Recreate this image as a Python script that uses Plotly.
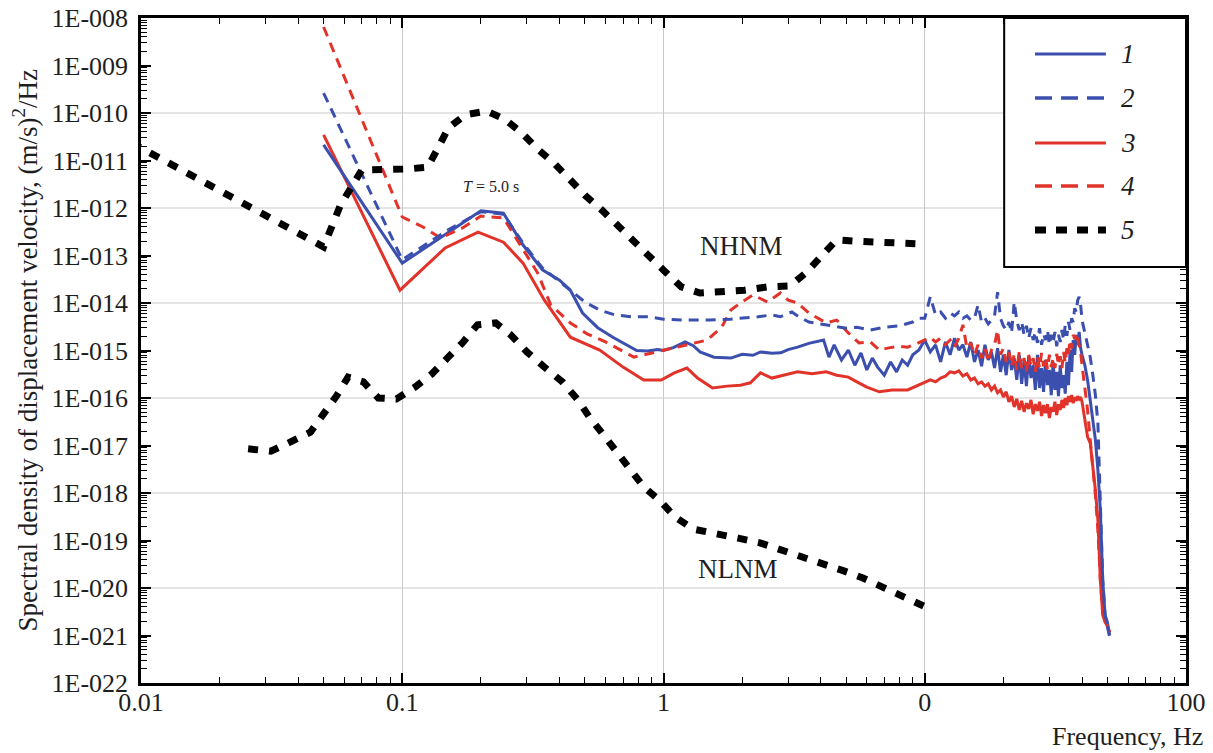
import numpy as np
import plotly.graph_objects as go

# ---------------- data (frequency in Hz, spectral density as log10 value) ----------------
f_hf = [10.0, 10.5, 11.0, 11.5, 12.0, 12.5, 13.0, 13.5, 14.0, 14.5, 15.0, 15.5, 16.0, 16.5,
        17.0, 17.5, 18.0, 18.5, 19.0, 19.5, 20.0, 20.5, 21.0, 21.5, 22.0, 22.5, 23.0, 23.5,
        24.0, 24.5, 25.0, 25.5, 26.0, 26.5, 27.0, 27.5, 28.0, 28.5, 29.0, 29.5, 30.0, 30.5,
        31.0, 31.5, 32.0, 32.5, 33.0, 33.5, 34.0, 34.5, 35.0, 35.5, 36.0, 36.5, 37.0, 37.5,
        38.0, 38.5, 39.0, 39.5, 40.0]
f_tail = [41, 42, 43, 44, 45, 46, 47, 48, 49, 50, 51]

# series 1 (blue solid)
s1_f_lf = [0.05, 0.1, 0.2, 0.244, 0.29, 0.344, 0.40, 0.44, 0.49, 0.56, 0.64, 0.79, 0.87, 0.95,
           1.0, 1.09, 1.21, 1.3, 1.38, 1.56, 1.81, 2.0, 2.2, 2.35, 2.6, 2.81, 3.0, 3.26, 3.6,
           3.9, 4.1, 4.3, 4.5, 4.8, 5.1, 5.4, 5.7, 6.0, 6.3, 6.6, 7.0, 7.4, 7.8, 8.2, 8.6, 9.0, 9.5]
s1_lf = [-10.67, -13.16, -12.06, -12.11, -12.78, -13.30, -13.52, -13.73, -14.21, -14.52, -14.72,
         -15.00, -15.01, -14.98, -15.00, -14.94, -14.82, -14.90, -15.03, -15.14, -15.16, -15.08,
         -15.10, -15.03, -15.06, -15.05, -14.98, -14.93, -14.85, -14.80, -14.78, -15.14, -14.88,
         -15.20, -14.99, -15.31, -15.05, -15.41, -15.16, -15.35, -15.52, -15.24, -15.45, -15.20,
         -15.31, -15.09, -14.99]
s1_hf = [-14.78, -15.03, -14.88, -15.24, -14.82, -15.09, -14.74, -14.99, -14.88, -15.14,
         -14.82, -15.24, -14.99, -15.33, -14.88, -15.20, -15.03, -15.37, -14.95, -15.45,
         -15.09, -15.52, -14.99, -15.41, -15.16, -15.62, -15.09, -15.70, -15.20, -15.75,
         -15.12, -15.58, -15.31, -15.83, -15.09, -15.79, -15.37, -15.87, -15.20, -15.73,
         -15.41, -15.94, -15.24, -15.83, -15.45, -15.96, -15.31, -15.79, -15.52, -15.91,
         -15.24, -15.73, -14.99, -15.45, -14.78, -15.09, -14.67, -14.88, -14.61, -14.95, -15.09]
s1_tail = [-15.31, -15.62, -16.04, -16.46, -16.88, -17.52, -18.36, -19.83, -20.57, -20.72, -20.99]

# series 2 (blue dashed)
s2_f_lf = [0.05, 0.1, 0.15, 0.2, 0.244, 0.29, 0.344, 0.40, 0.44, 0.5, 0.57, 0.65, 0.75, 0.88,
           1.0, 1.2, 1.5, 1.8, 2.0, 2.3, 2.6, 2.8, 3.1, 3.3, 3.6, 4.2, 5.0, 5.5, 6.2, 7.0, 8.0,
           9.0, 9.5]
s2_lf = [-9.58, -13.09, -12.46, -12.08, -12.13, -12.74, -13.26, -13.56, -13.73, -13.98, -14.15,
         -14.25, -14.29, -14.29, -14.34, -14.36, -14.36, -14.34, -14.32, -14.29, -14.25, -14.29,
         -14.19, -14.29, -14.40, -14.46, -14.53, -14.51, -14.57, -14.51, -14.48, -14.40, -14.32]
s2_hf = [-14.32, -13.87, -14.25, -14.19, -14.32, -14.21, -14.27, -14.19, -14.32, -14.27,
         -14.36, -14.32, -14.04, -14.40, -14.32, -14.44, -14.36, -14.27, -13.77, -14.32,
         -14.48, -14.57, -14.40, -14.63, -13.98, -14.36, -14.57, -14.40, -14.67, -14.48,
         -14.74, -14.53, -14.78, -14.61, -14.84, -14.53, -14.88, -14.65, -14.78, -14.57,
         -14.88, -14.67, -14.84, -14.61, -14.91, -14.67, -14.82, -14.57, -14.78, -14.46,
         -14.69, -14.40, -14.57, -14.32, -14.40, -14.11, -14.19, -13.94, -13.87, -14.04, -14.36]
s2_tail = [-14.61, -14.88, -15.14, -15.52, -15.94, -16.53, -18.00, -19.83, -20.57, -20.78, -21.03]

# series 3 (red solid)
s3_f_lf = [0.05, 0.098, 0.146, 0.195, 0.244, 0.29, 0.35, 0.44, 0.57, 0.70, 0.84, 0.98, 1.1,
           1.23, 1.35, 1.54, 1.75, 1.97, 2.15, 2.35, 2.6, 2.9, 3.26, 3.7, 4.2, 4.6, 5.1, 5.5,
           6.0, 6.7, 7.5, 8.6, 9.3]
s3_lf = [-10.46, -13.73, -12.84, -12.51, -12.72, -13.16, -13.94, -14.72, -14.99, -15.35, -15.62,
         -15.62, -15.47, -15.37, -15.58, -15.79, -15.75, -15.73, -15.68, -15.47, -15.58, -15.52,
         -15.45, -15.49, -15.45, -15.52, -15.56, -15.66, -15.77, -15.87, -15.83, -15.83, -15.75]
s3_hf = [-15.68, -15.62, -15.66, -15.58, -15.54, -15.45, -15.47, -15.43, -15.54, -15.49,
         -15.62, -15.58, -15.70, -15.66, -15.75, -15.70, -15.83, -15.75, -15.89, -15.83,
         -15.98, -15.87, -16.08, -15.96, -16.19, -16.02, -16.25, -16.06, -16.29, -16.11,
         -16.23, -16.04, -16.34, -16.13, -16.27, -16.08, -16.38, -16.15, -16.32, -16.13,
         -16.42, -16.19, -16.29, -16.08, -16.36, -16.13, -16.25, -16.04, -16.21, -16.00,
         -16.15, -15.96, -16.08, -15.94, -16.11, -15.98, -16.06, -15.96, -16.02, -15.98, -16.08]
s3_tail = [-16.46, -16.82, -16.95, -17.41, -17.94, -18.57, -19.83, -20.57, -20.72, -20.80, -20.93]

# series 4 (red dashed)
s4_f_lf = [0.05, 0.1, 0.12, 0.14, 0.17, 0.2, 0.244, 0.29, 0.33, 0.37, 0.44, 0.51, 0.6, 0.77,
           0.91, 1.0, 1.23, 1.47, 1.67, 1.81, 1.97, 2.2, 2.5, 2.8, 3.0, 3.26, 3.6, 4.2, 4.6,
           5.1, 5.6, 6.2, 6.7, 7.2, 8.0, 8.6, 9.3]
s4_lf = [-8.19, -12.19, -12.40, -12.63, -12.42, -12.17, -12.21, -12.88, -13.37, -14.04, -14.42,
         -14.65, -14.82, -15.14, -15.05, -14.99, -14.88, -14.78, -14.51, -14.15, -14.00, -13.83,
         -13.98, -13.79, -13.94, -14.00, -14.21, -14.42, -14.36, -14.63, -14.84, -14.82, -14.99,
         -14.95, -14.91, -14.93, -14.86]
s4_hf = [-14.78, -14.72, -14.82, -14.74, -14.88, -14.78, -14.93, -14.74, -14.46, -14.95,
         -14.84, -15.09, -14.88, -15.16, -14.95, -15.24, -14.99, -14.88, -14.57, -15.09,
         -14.95, -15.24, -15.03, -15.33, -15.09, -15.41, -15.03, -15.37, -15.16, -15.45,
         -15.09, -15.33, -15.16, -15.45, -15.12, -15.37, -15.05, -15.33, -15.14, -15.39,
         -15.09, -15.35, -15.16, -15.37, -15.07, -15.31, -15.12, -15.37, -15.03, -15.26,
         -14.95, -15.09, -14.78, -14.95, -14.67, -14.76, -14.63, -14.78, -14.88, -15.03, -15.31]
s4_tail = [-15.73, -16.25, -16.88, -17.41, -18.04, -18.78, -19.83, -20.51, -20.67, -20.78, -20.93]

# series 5: NHNM and NLNM
nhnm_f = [0.0092, 0.05, 0.058, 0.07, 0.104, 0.125, 0.137, 0.15, 0.174, 0.21, 0.247, 0.287, 0.33,
          0.38, 0.44, 0.50, 0.58, 0.67, 0.76, 0.88, 1.01, 1.17, 1.38, 1.67, 2.04, 2.51, 3.05,
          3.5, 4.0, 4.6, 5.5, 6.7, 8.2, 10.0]
nhnm = [-10.63, -12.82, -11.94, -11.20, -11.18, -11.14, -10.74, -10.32, -10.04, -9.96, -10.13,
        -10.42, -10.76, -11.05, -11.41, -11.73, -12.04, -12.36, -12.67, -13.01, -13.33, -13.66,
        -13.79, -13.77, -13.73, -13.66, -13.64, -13.37, -13.03, -12.67, -12.70, -12.72, -12.74,
        -12.76]
nlnm_f = [0.0257, 0.0314, 0.0372, 0.0445, 0.0496, 0.056, 0.062, 0.071, 0.081, 0.095, 0.112,
          0.13, 0.15, 0.17, 0.194, 0.228, 0.26, 0.30, 0.35, 0.41, 0.47, 0.52, 0.59, 0.66, 0.74,
          0.84, 0.98, 1.11, 1.30, 1.59, 1.93, 2.34, 2.78, 3.4, 4.1, 4.9, 5.8, 6.9, 8.3, 9.9]
nlnm = [-17.07, -17.12, -16.93, -16.72, -16.36, -15.96, -15.56, -15.66, -16.00, -16.02, -15.77,
        -15.49, -15.14, -14.84, -14.46, -14.42, -14.67, -15.03, -15.35, -15.66, -16.04, -16.40,
        -16.78, -17.14, -17.49, -17.87, -18.19, -18.51, -18.76, -18.84, -18.95, -19.05, -19.18,
        -19.35, -19.47, -19.64, -19.79, -19.98, -20.19, -20.38]

x_tickvals = [0.01, 0.1, 1, 10, 100]
x_ticktext = ["0.01", "0.1", "1", "0", "100"]
y_exponents = list(range(-22, -7))
legend_labels = ["1", "2", "3", "4", "5"]

# ---------------- figure ----------------
BLUE = "#3b4fae"
RED = "#e2332b"
FONT = "Liberation Serif, Times New Roman, serif"
TXT = "#1e1e1e"


def series(f_lf, lf, hf, tail):
    x = list(f_lf) + f_hf + f_tail
    y = 10 ** np.array(list(lf) + hf + tail)
    return x, y


fig = go.Figure()
styles = {
    "3": dict(color=RED, width=3, dash="solid"),
    "1": dict(color=BLUE, width=3, dash="solid"),
    "4": dict(color=RED, width=3, dash="10px,7px"),
    "2": dict(color=BLUE, width=3, dash="10px,7px"),
}
data = {
    "1": series(s1_f_lf, s1_lf, s1_hf, s1_tail),
    "2": series(s2_f_lf, s2_lf, s2_hf, s2_tail),
    "3": series(s3_f_lf, s3_lf, s3_hf, s3_tail),
    "4": series(s4_f_lf, s4_lf, s4_hf, s4_tail),
}
for key in ["3", "1", "4", "2"]:
    x, y = data[key]
    fig.add_trace(go.Scatter(x=x, y=y, mode="lines", line=styles[key],
                             showlegend=False, name=key))

dot_line = dict(color="black", width=7, dash="10px,11px")
fig.add_trace(go.Scatter(x=nhnm_f, y=10 ** np.array(nhnm), mode="lines", line=dot_line,
                         showlegend=False, name="NHNM"))
fig.add_trace(go.Scatter(x=nlnm_f, y=10 ** np.array(nlnm), mode="lines", line=dot_line,
                         showlegend=False, name="NLNM"))

x_minor = [k * 10.0 ** e for e in range(-2, 2) for k in range(2, 10)]
y_minor = [k * 10.0 ** e for e in range(-22, -8) for k in range(2, 10)]

fig.update_xaxes(type="log", range=[-2, 2], tickmode="array", tickvals=x_tickvals,
                 ticktext=x_ticktext, ticks="inside", ticklen=10, tickwidth=1.5,
                 tickcolor="black", showline=True, linecolor="black", linewidth=2.5,
                 mirror="allticks", showgrid=True, gridcolor="#c9c9c9", gridwidth=1,
                 zeroline=False, automargin=False, ticklabelstandoff=-6,
                 ticklabeloverflow="allow",
                 tickfont=dict(family=FONT, size=26, color=TXT),
                 minor=dict(tickvals=x_minor, ticks="inside", ticklen=6, tickwidth=1.3,
                            tickcolor="black", showgrid=False))
fig.update_yaxes(type="log", range=[-22, -8], tickmode="array",
                 tickvals=[10.0 ** e for e in y_exponents],
                 ticktext=["1E-0%02d" % (-e) for e in y_exponents],
                 ticks="inside", ticklen=10, tickwidth=1.5, tickcolor="black",
                 showline=True, linecolor="black", linewidth=2.5, mirror="allticks",
                 showgrid=False, zeroline=False, automargin=False, ticklabelstandoff=5,
                 ticklabeloverflow="allow",
                 tickfont=dict(family=FONT, size=26, color=TXT),
                 minor=dict(tickvals=y_minor, ticks="inside", ticklen=6, tickwidth=1.3,
                            tickcolor="black", showgrid=False))

shapes = []
# horizontal grid lines every second decade
for e in range(-20, -8, 2):
    yp = (e + 22) / 14.0
    shapes.append(dict(type="line", xref="paper", yref="paper", x0=0, x1=1, y0=yp, y1=yp,
                       line=dict(color="#c9c9c9", width=1), layer="below"))

# legend box
lx0, lx1, ly0, ly1 = 0.826, 1.0, 0.6256, 1.0
shapes.append(dict(type="rect", xref="paper", yref="paper", x0=lx0, x1=lx1, y0=ly0, y1=ly1,
                   line=dict(color="black", width=2), fillcolor="white", layer="above"))
leg_y = [0.9459, 0.8797, 0.8120, 0.7474, 0.6812]
leg_styles = [
    dict(color=BLUE, width=3, dash="solid"),
    dict(color=BLUE, width=3.5, dash="17px,9px"),
    dict(color=RED, width=3, dash="solid"),
    dict(color=RED, width=3.5, dash="17px,9px"),
    dict(color="black", width=7, dash="11px,10px"),
]
annotations = []
for yy, st, lab in zip(leg_y, leg_styles, legend_labels):
    shapes.append(dict(type="line", xref="paper", yref="paper", x0=0.8555, x1=0.9234,
                       y0=yy, y1=yy, line=st, layer="above"))
    annotations.append(dict(text="<i>%s</i>" % lab, xref="paper", yref="paper", x=0.9445,
                            y=yy, showarrow=False, xanchor="center", yanchor="middle",
                            font=dict(family=FONT, size=27, color=TXT)))

annotations += [
    dict(text="NHNM", xref="x", yref="y", x=0.299, y=-12.80, showarrow=False,
         font=dict(family=FONT, size=27, color=TXT)),
    dict(text="NLNM", xref="x", yref="y", x=0.287, y=-19.60, showarrow=False,
         font=dict(family=FONT, size=27, color=TXT)),
    dict(text="<i>T</i> = 5.0 s", xref="x", yref="y", x=-0.659, y=-11.54, showarrow=False,
         font=dict(family=FONT, size=16, color=TXT)),
    dict(text="Spectral density of displacement velocity, (m/s)<sup>2</sup>/Hz",
         xref="paper", yref="paper", x=-0.111, y=0.5, textangle=-90, showarrow=False,
         xanchor="center", yanchor="middle", font=dict(family=FONT, size=27, color=TXT)),
    dict(text="Frequency, Hz", xref="paper", yref="paper", x=1.018, y=-0.081,
         showarrow=False, xanchor="right", yanchor="middle",
         font=dict(family=FONT, size=26, color=TXT)),
]

# The page body has an 8px default margin, so the figure is sized/margined to
# place the plot area at the same pixels as the reference.
fig.update_layout(width=1205, height=745, margin=dict(l=133, r=27, t=10, b=70),
                  plot_bgcolor="white", paper_bgcolor="white", shapes=shapes,
                  annotations=annotations, showlegend=False,
                  font=dict(family=FONT, color=TXT))

fig.write_html("out.html")
